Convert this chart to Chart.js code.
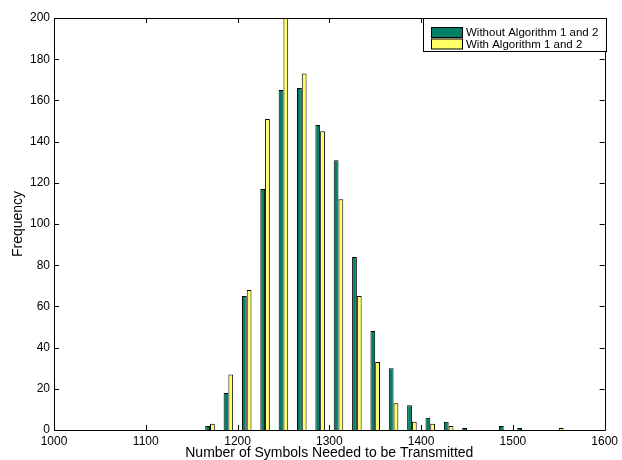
<!DOCTYPE html>
<html lang="en">
<head>
    <meta charset="UTF-8">
    <title>Symbols histogram</title>
    <script src="https://cdn.jsdelivr.net/npm/chart.js"></script>
    <style>
        html, body { margin: 0; padding: 0; background: #fff; }
        #wrap { width: 622px; height: 460px; }
    </style>
</head>
<body>
    <div id="wrap"><canvas id="histChart" width="622" height="460"></canvas></div>

    <script>
        // bin centres (20 symbols per bin)
        const binCenters = [1010, 1030, 1050, 1070, 1090, 1110, 1130, 1150, 1170, 1190,
                            1210, 1230, 1250, 1270, 1290, 1310, 1330, 1350, 1370, 1390,
                            1410, 1430, 1450, 1470, 1490, 1510, 1530, 1550, 1570, 1590];
        const withoutAlg = [0, 0, 0, 0, 0, 0, 0, 0, 2, 18,
                            65, 117, 165, 166, 148, 131, 84, 48, 30, 12,
                            6, 4, 1, 0, 2, 1, 0, 0, 0, 0];
        const withAlg = [0, 0, 0, 0, 0, 0, 0, 0, 3, 27,
                         68, 151, 200, 173, 145, 112, 65, 33, 13, 4,
                         3, 2, 0, 0, 0, 0, 0, 1, 0, 0];
        const xTicks = [1000, 1100, 1200, 1300, 1400, 1500, 1600];
        const yTicks = [0, 20, 40, 60, 80, 100, 120, 140, 160, 180, 200];
        const seriesNames = ['Without Algorithm 1 and 2', 'With Algorithm 1 and 2'];
        const seriesColors = ['#008066', '#ffff66'];

        const fontFamily = "'Liberation Sans', Arial, sans-serif";

        // matlab style box with inward ticks, plus the legend box
        const boxPlugin = {
            id: 'boxPlugin',
            afterDraw(chart) {
                const ctx = chart.ctx;
                const a = chart.chartArea;
                const xs = chart.scales.x2;
                const ys = chart.scales.y;
                ctx.save();
                ctx.strokeStyle = '#000';
                ctx.lineWidth = 1;
                ctx.beginPath();
                ctx.rect(Math.round(a.left) + 0.5, Math.round(a.top) + 0.5,
                         Math.round(a.right - a.left), Math.round(a.bottom - a.top));
                ctx.stroke();
                ctx.beginPath();
                xTicks.forEach(v => {
                    const px = Math.round(xs.getPixelForValue(v)) + 0.5;
                    ctx.moveTo(px, a.bottom); ctx.lineTo(px, a.bottom - 5);
                    ctx.moveTo(px, a.top); ctx.lineTo(px, a.top + 5);
                });
                yTicks.forEach(v => {
                    const py = Math.round(ys.getPixelForValue(v)) + 0.5;
                    ctx.moveTo(a.left, py); ctx.lineTo(a.left + 5, py);
                    ctx.moveTo(a.right, py); ctx.lineTo(a.right - 5, py);
                });
                ctx.stroke();

                // legend
                const lx = 423.5, ly = 18.5, lw = 183, lh = 33;
                ctx.fillStyle = '#fff';
                ctx.fillRect(lx, ly, lw, lh);
                ctx.strokeRect(lx, ly, lw, lh);
                ctx.font = '11.5px ' + fontFamily;
                ctx.textBaseline = 'middle';
                seriesNames.forEach((name, i) => {
                    const sy = 27.5 + i * 11.5;
                    ctx.fillStyle = seriesColors[i];
                    ctx.fillRect(431.5, sy, 31, 10);
                    ctx.strokeStyle = '#000';
                    ctx.strokeRect(431.5, sy, 31, 10);
                    ctx.fillStyle = '#000';
                    ctx.fillText(name, 466, sy + 5.5);
                });
                ctx.restore();
            }
        };

        const ctx = document.getElementById('histChart').getContext('2d');
        new Chart(ctx, {
            type: 'bar',
            data: {
                labels: binCenters,
                datasets: [{
                    label: seriesNames[0],
                    data: withoutAlg,
                    backgroundColor: seriesColors[0],
                    borderColor: '#000',
                    borderWidth: 1,
                    categoryPercentage: 0.52,
                    barPercentage: 1.0
                }, {
                    label: seriesNames[1],
                    data: withAlg,
                    backgroundColor: seriesColors[1],
                    borderColor: '#000',
                    borderWidth: 1,
                    categoryPercentage: 0.52,
                    barPercentage: 1.0
                }]
            },
            options: {
                responsive: false,
                animation: false,
                layout: { padding: { top: 18, right: 13, left: 0, bottom: 0 } },
                plugins: {
                    legend: { display: false },
                    tooltip: { enabled: false }
                },
                scales: {
                    x: {
                        type: 'category',
                        display: false,
                        offset: true,
                        grid: { display: false }
                    },
                    x2: {
                        type: 'linear',
                        position: 'bottom',
                        min: 1000,
                        max: 1600,
                        offset: false,
                        grid: { display: false, drawTicks: false, offset: false },
                        border: { display: false },
                        afterFit(scale) { scale.height = 30; },
                        afterBuildTicks(scale) { scale.ticks = xTicks.map(v => ({ value: v })); },
                        ticks: {
                            padding: 4,
                            maxRotation: 0,
                            color: '#000',
                            font: { family: fontFamily, size: 12 },
                            callback: v => String(v)
                        },
                        title: {
                            display: true,
                            text: 'Number of Symbols Needed to be Transmitted',
                            color: '#000',
                            padding: { top: 0, bottom: 0 },
                            font: { family: fontFamily, size: 14, lineHeight: 1.0 }
                        }
                    },
                    y: {
                        min: 0,
                        max: 200,
                        grid: { display: false, drawTicks: false },
                        border: { display: false },
                        afterFit(scale) { scale.width = 54; },
                        afterBuildTicks(scale) { scale.ticks = yTicks.map(v => ({ value: v })); },
                        ticks: {
                            padding: 4,
                            color: '#000',
                            font: { family: fontFamily, size: 12 }
                        },
                        title: {
                            display: true,
                            text: 'Frequency',
                            color: '#000',
                            padding: { top: 10, bottom: 0 },
                            font: { family: fontFamily, size: 14 }
                        }
                    }
                }
            },
            plugins: [boxPlugin]
        });
    </script>
</body>
</html>
